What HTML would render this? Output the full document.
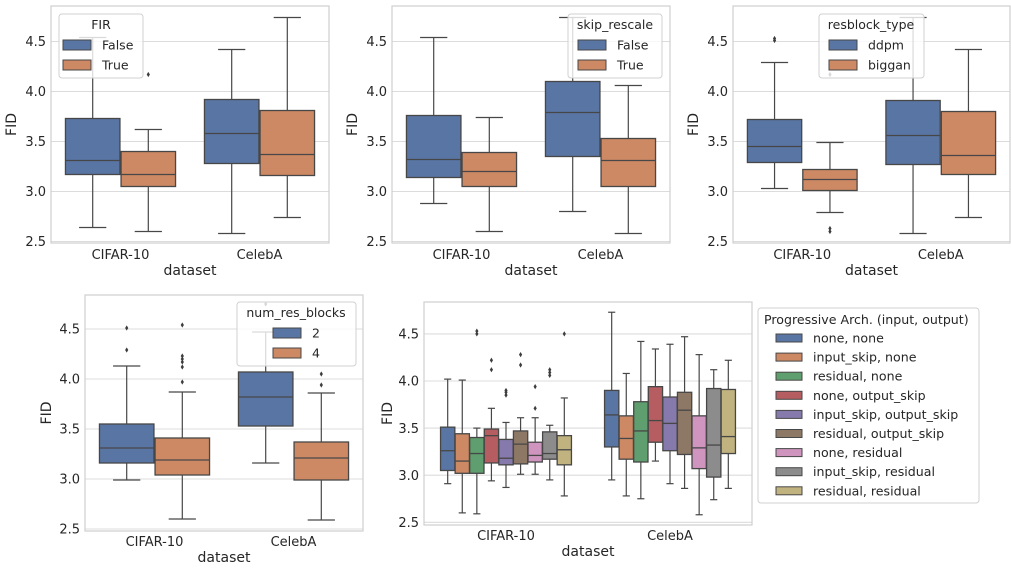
<!DOCTYPE html>
<html><head><meta charset="utf-8"><style>
html,body{margin:0;padding:0;background:#fff;}
svg{display:block;font-family:"DejaVu Sans","Liberation Sans",sans-serif;}
</style></head><body>
<svg id="fig" width="1011" height="572" viewBox="0 0 1011 572" xmlns="http://www.w3.org/2000/svg"></svg>
<script>
const categories = ["CIFAR-10", "CelebA"];
const yTicks = [2.5, 3.0, 3.5, 4.0, 4.5];
const tickLabels = ["2.5", "3.0", "3.5", "4.0", "4.5"];
const palette = ["#5975a4","#cc8963","#5f9e6e","#b55d60","#857aab","#8d7866","#d095bf","#8c8c8c","#c1b37f"];

// each stat: [whislo, q1, med, q3, whishi]
const firHues = ["False", "True"];
const firStats = [[[2.64,3.17,3.31,3.73,4.54],[2.60,3.05,3.17,3.40,3.62]],
                  [[2.58,3.28,3.58,3.92,4.42],[2.74,3.16,3.37,3.81,4.74]]];
const firOut = [[[],[4.17]],[[],[]]];

const skipHues = ["False", "True"];
const skipStats = [[[2.88,3.14,3.32,3.76,4.54],[2.60,3.05,3.20,3.39,3.74]],
                   [[2.80,3.35,3.79,4.10,4.74],[2.58,3.05,3.31,3.53,4.06]]];
const skipOut = [[[],[]],[[],[]]];

const resHues = ["ddpm", "biggan"];
const resStats = [[[3.03,3.29,3.45,3.72,4.29],[2.79,3.01,3.12,3.22,3.49]],
                  [[2.58,3.27,3.56,3.91,4.74],[2.74,3.17,3.36,3.80,4.42]]];
const resOut = [[[4.51,4.53],[2.60,2.63,4.17]],[[],[]]];

const nrbHues = ["2", "4"];
const nrbStats = [[[2.99,3.16,3.31,3.55,4.13],[2.60,3.04,3.19,3.41,3.87]],
                  [[3.16,3.53,3.82,4.07,4.47],[2.59,2.99,3.21,3.37,3.86]]];
const nrbOut = [[[4.29,4.51],[3.97,4.12,4.17,4.20,4.23,4.54]],[[4.75],[3.94,4.05]]];

const progHues = ["none, none","input_skip, none","residual, none","none, output_skip","input_skip, output_skip","residual, output_skip","none, residual","input_skip, residual","residual, residual"];
const progStats = [
 [[2.91,3.05,3.26,3.51,4.02],[2.60,3.02,3.15,3.44,4.01],[2.59,3.02,3.23,3.40,3.50],
  [2.94,3.13,3.42,3.49,3.71],[2.87,3.11,3.18,3.38,3.56],[3.01,3.12,3.33,3.47,3.61],
  [3.01,3.14,3.21,3.35,3.61],[2.95,3.17,3.23,3.46,3.53],[2.78,3.11,3.27,3.42,3.82]],
 [[2.95,3.30,3.64,3.90,4.73],[2.78,3.17,3.39,3.63,4.08],[2.75,3.14,3.47,3.78,4.42],
  [3.15,3.35,3.58,3.94,4.34],[2.91,3.26,3.55,3.83,4.39],[2.86,3.22,3.69,3.88,4.47],
  [2.58,3.07,3.29,3.63,4.28],[2.74,2.98,3.32,3.92,4.12],[2.86,3.23,3.41,3.91,4.22]]];
const progOut = [
 [[],[],[4.50,4.53],[4.12,4.22],[3.85,3.88,3.90],[4.17,4.28],[3.71,3.94],[4.06,4.09,4.12],[4.50]],
 [[],[],[],[],[],[],[],[],[]]];

const svg = document.getElementById('fig');
const NS = 'http://www.w3.org/2000/svg';
function mk(tag, attrs, parent){ const e=document.createElementNS(NS,tag); for(const k in attrs) e.setAttribute(k,attrs[k]); (parent||svg).appendChild(e); return e; }

function panel(cfg){
  const g = mk('g',{});
  
  
  const {x0,x1,yTop,yBot,y25,ppu} = cfg;
  const Y = v => y25 - (v-2.5)*ppu;
  const W = x1-x0, catW = W/categories.length;
  const X = i => x0 + catW*(i+0.5);
  yTicks.forEach((t,i)=>{
    const gl = mk('line',{x1:x0,x2:x1,y1:Y(t),y2:Y(t),stroke:'#dcdcdc','stroke-width':1.1},g);
    
    
    const tl = mk('text',{x:x0-5,y:Y(t)+4.7,'text-anchor':'end','font-size':13,fill:'#262626'},g);
    tl.textContent = tickLabels[i];
    
    
  });
  const fr = mk('rect',{x:x0,y:yTop,width:W,height:yBot-yTop,fill:'none',stroke:'#cfcfcf','stroke-width':1.2},g);
  
  
  const nh = cfg.hues.length, gw = catW*0.8, hw = gw/nh, bw = hw*0.98;
  const lc = '#474747';
  cfg.stats.forEach((cat,ci)=>{
    cat.forEach((s,hi)=>{
      const cx = X(ci) - gw/2 + hw*(hi+0.5);
      const bg = mk('g',{},g);
      
      
      mk('line',{x1:cx,x2:cx,y1:Y(s[3]),y2:Y(s[4]),stroke:lc,'stroke-width':1.2},bg);
      mk('line',{x1:cx,x2:cx,y1:Y(s[1]),y2:Y(s[0]),stroke:lc,'stroke-width':1.2},bg);
      mk('line',{x1:cx-bw/4,x2:cx+bw/4,y1:Y(s[4]),y2:Y(s[4]),stroke:lc,'stroke-width':1.2},bg);
      mk('line',{x1:cx-bw/4,x2:cx+bw/4,y1:Y(s[0]),y2:Y(s[0]),stroke:lc,'stroke-width':1.2},bg);
      mk('rect',{x:cx-bw/2,y:Y(s[3]),width:bw,height:Y(s[1])-Y(s[3]),fill:palette[hi],stroke:lc,'stroke-width':1.3},bg);
      mk('line',{x1:cx-bw/2,x2:cx+bw/2,y1:Y(s[2]),y2:Y(s[2]),stroke:lc,'stroke-width':1.3},bg);
      cfg.out[ci][hi].forEach(v=>{
        const y=Y(v);
        const d = mk('path',{d:`M${cx} ${y-2.6}L${cx+1.6} ${y}L${cx} ${y+2.6}L${cx-1.6} ${y}Z`,fill:'#3d3d3d'},bg);
        
        
      });
    });
    const xl = mk('text',{x:X(ci),y:cfg.xtY,'text-anchor':'middle','font-size':13,fill:'#262626'},g);
    xl.textContent = categories[ci];
    
    
  });
  const xt = mk('text',{x:(x0+x1)/2,y:cfg.xlY,'text-anchor':'middle','font-size':14,fill:'#262626'},g);
  xt.textContent='dataset';
  
  
  const ym = (yTop+yBot)/2;
  const yt = mk('text',{x:cfg.ylX,y:ym,'text-anchor':'middle','font-size':14,fill:'#262626',transform:`rotate(-90 ${cfg.ylX} ${ym})`},g);
  yt.textContent='FID';
  
  
  const L = cfg.leg;
  const lg = mk('g',{},g);
  
  
  mk('rect',{x:L.x,y:L.y,width:L.w,height:L.h,rx:3,fill:'rgba(255,255,255,0.8)',stroke:'#d0d0d0','stroke-width':1},lg);
  const tt = mk('text',{x:L.tx,y:L.y+L.titleDy,'text-anchor':L.anchor,'font-size':L.fs,fill:'#262626'},lg);
  tt.textContent = cfg.title;
  
  
  cfg.hues.forEach((h,i)=>{
    const ey = L.y + L.firstDy + i*L.step;
    const eg = mk('g',{},lg);
    
    
    mk('rect',{x:L.px,y:ey-L.ph/2,width:L.pw,height:L.ph,fill:palette[i],stroke:'#474747','stroke-width':1},eg);
    const t = mk('text',{x:L.px+L.pw+L.gap,y:ey+L.fs*0.36,'font-size':L.fs,fill:'#262626'},eg);
    t.textContent = h;
  });
}

const big = {fs:12.5, titleDy:15, firstDy:31, step:20, pw:28, ph:10, gap:11, anchor:'middle'};
panel({name:'fir-panel',x0:51,x1:329,yTop:6,yBot:243,y25:241.5,ppu:100,xtY:259,xlY:275,ylX:16,
  hues:firHues,stats:firStats,out:firOut,title:'FIR',
  leg:Object.assign({},big,{x:59,y:14,w:84,h:64,tx:101,px:63})});
panel({name:'skip-rescale-panel',x0:392,x1:670,yTop:6,yBot:243,y25:241.5,ppu:100,xtY:259,xlY:275,ylX:357,
  hues:skipHues,stats:skipStats,out:skipOut,title:'skip_rescale',
  leg:Object.assign({},big,{x:568,y:14,w:94,h:64,tx:615,px:578})});
panel({name:'resblock-type-panel',x0:733,x1:1010,yTop:6,yBot:243,y25:241.5,ppu:100,xtY:259,xlY:275,ylX:698,
  hues:resHues,stats:resStats,out:resOut,title:'resblock_type',
  leg:Object.assign({},big,{x:819,y:14,w:105,h:64,tx:871,px:829})});
panel({name:'num-res-blocks-panel',x0:85,x1:363,yTop:295,yBot:531,y25:529,ppu:100,xtY:546,xlY:562,ylX:51,
  hues:nrbHues,stats:nrbStats,out:nrbOut,title:'num_res_blocks',
  leg:Object.assign({},big,{x:237,y:302,w:119,h:64,tx:296,px:273})});
panel({name:'progressive-arch-panel',x0:424,x1:752,yTop:302,yBot:525,y25:522.3,ppu:94.2,xtY:540,xlY:556,ylX:392,
  hues:progHues,stats:progStats,out:progOut,title:'Progressive Arch. (input, output)',
  leg:{x:758,y:308,w:221,h:195,tx:764,anchor:'start',titleDy:16,firstDy:30,step:19.1,fs:12.6,pw:26,ph:8,gap:11,px:776}});
</script>
</body></html>
